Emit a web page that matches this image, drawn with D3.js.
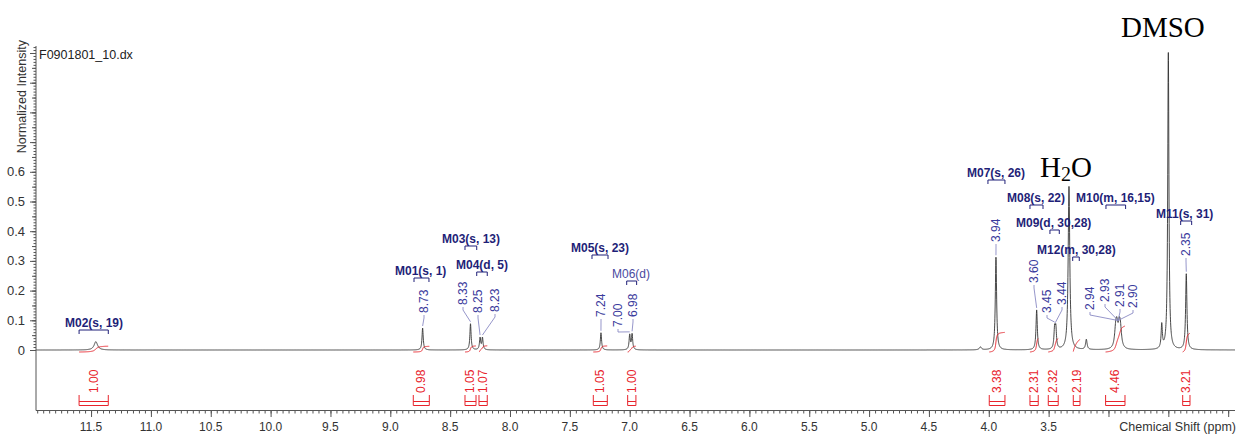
<!DOCTYPE html>
<meta charset="utf-8">
<style>
body { margin: 0; background: #fff; }
svg text { font-family: "Liberation Sans", Arial, Helvetica, sans-serif; }
.serif { font-family: "Liberation Serif", "Times New Roman", serif !important; }
</style>
<script src="https://d3js.org/d3.v7.min.js"></script>
<div id="chart"></div>
<script>
// peaks: position (ppm), normalized height, line width (ppm)
var peakPpm    = [11.46, 8.73, 8.33, 8.25, 8.23, 7.24, 7.00, 6.98, 4.07, 3.94, 3.60, 3.45, 3.44, 3.33, 3.185, 2.94, 2.93, 2.91, 2.90, 2.555, 2.50, 2.35];
var peakHeight = [0.028, 0.074, 0.088, 0.040, 0.040, 0.058, 0.050, 0.052, 0.010, 0.312, 0.134, 0.065, 0.065, 0.550, 0.034, 0.052, 0.062, 0.062, 0.052, 0.080, 1.0, 0.255];
var peakWidth  = [0.035, 0.012, 0.012, 0.012, 0.012, 0.012, 0.012, 0.012, 0.020, 0.013, 0.013, 0.013, 0.013, 0.016, 0.015, 0.022, 0.022, 0.022, 0.022, 0.012, 0.012, 0.013];

// integration regions (ppm from, to) and values
var integFrom  = [11.60, 8.808, 8.376, 8.259, 7.304, 7.017, 3.996, 3.656, 3.503, 3.294, 3.024, 2.380];
var integTo    = [11.356, 8.674, 8.284, 8.190, 7.187, 6.948, 3.865, 3.587, 3.420, 3.238, 2.862, 2.319];
var integValue = ["1.00", "0.98", "1.05", "1.07", "1.05", "1.00", "3.38", "2.31", "2.32", "2.19", "4.46", "3.21"];

// multiplet annotations
var multName = ["M02(s, 19)", "M01(s, 1)", "M03(s, 13)", "M04(d, 5)", "M05(s, 23)", "M06(d)", "M07(s, 26)", "M08(s, 22)", "M09(d, 30,28)", "M10(m, 16,15)", "M11(s, 31)", "M12(m, 30,28)"];
var multFrom   = [11.60, 8.802, 8.376, 8.278, 7.315, 7.025, 4.007, 3.656, 3.489, 3.021, 2.397, 3.299];
var multTo     = [11.356, 8.677, 8.278, 8.190, 7.181, 6.942, 3.865, 3.547, 3.411, 2.857, 2.305, 3.244];

// labelled peak shifts
var shiftLabel = ["8.73", "8.33", "8.25", "8.23", "7.24", "7.00", "6.98", "3.94", "3.60", "3.45", "3.44", "2.94", "2.93", "2.91", "2.90", "2.35"];

var xTickMajor = d3.range(2.0, 11.51, 0.5);
var xTickLabels = ["3.5", "4.0", "4.5", "5.0", "5.5", "6.0", "6.5", "7.0", "7.5", "8.0", "8.5", "9.0", "9.5", "10.0", "10.5", "11.0", "11.5"];
var yTickLabels = ["0", "0.1", "0.2", "0.3", "0.4", "0.5", "0.6"];

// ---- layout (pixel positions of annotation text) ----
var multTextPos = [[65, 327], [395, 275], [442, 243], [456, 269], [571, 252], [612, 278],
                   [967, 177], [1007, 202], [1016, 227], [1076, 202], [1156, 218], [1037, 254]];
var shiftTextPos = [[424, 313], [463, 305], [478, 313], [495, 312], [601, 317], [618, 327], [633, 317],
                    [996, 242], [1034, 283], [1047, 313], [1062, 305], [1090, 310], [1105, 302], [1120, 307], [1133, 308], [1186, 256]];
var shiftPeakTarget = [8.73, 8.33, 8.25, 8.23, 7.24, 7.00, 6.98, 3.94, 3.60, 3.45, 3.445, 2.92, 2.92, 2.92, 2.92, 2.35];

var W = 1239, H = 436;
var svg = d3.select("#chart").append("svg").attr("width", W).attr("height", H);

var x = d3.scaleLinear().domain([11.96, 1.943]).range([36, 1235]);
var y = d3.scaleLinear().domain([0, 1]).range([350, 53]);
var axisY = 410.5, axisTop = 46;

function intensity(p) {
  var s = 0;
  for (var i = 0; i < peakPpm.length; i++) {
    var d = (p - peakPpm[i]) / (peakWidth[i] / 2);
    s += peakHeight[i] / (1 + d * d);
  }
  return s;
}

// spectrum samples
var pts = d3.range(1.943, 11.96, 0.001).concat(peakPpm).sort(d3.ascending);
var spec = pts.map(function(p) { return [p, intensity(p)]; });

svg.append("defs").append("clipPath").attr("id", "clip")
  .append("rect").attr("x", 36).attr("y", 0).attr("width", 1199).attr("height", axisY);

svg.append("path")
  .datum(spec)
  .attr("clip-path", "url(#clip)")
  .attr("fill", "none")
  .attr("stroke", "#333")
  .attr("stroke-width", 0.9)
  .attr("d", d3.line().x(function(d) { return x(d[0]); }).y(function(d) { return y(d[1]); }));

// integral curves
var red = "#e8242c";
integFrom.forEach(function(a, i) {
  var b = integTo[i];
  var ps = d3.range(a, b, -0.001);
  var cum = 0, arr = [];
  ps.forEach(function(p) { cum += intensity(p); arr.push([p, cum]); });
  var tot = cum;
  var hgt = +integValue[i] * 5.8;
  svg.append("path")
    .datum(arr)
    .attr("fill", "none").attr("stroke", red).attr("stroke-width", 1)
    .attr("d", d3.line().x(function(d) { return x(d[0]); })
      .y(function(d) { return y(0) + 2 - d[1] / tot * hgt; }));

  // bracket under the spectrum
  var x0 = x(a), x1 = x(b);
  svg.append("path")
    .attr("fill", "none").attr("stroke", red).attr("stroke-width", 1)
    .attr("d", "M" + x0 + ",395V405.5H" + x1 + "V395M" + x0 + ",401.5H" + x1);
  var cx = (x0 + x1) / 2;
  svg.append("text")
    .attr("transform", "translate(" + (cx + 4) + ",393) rotate(-90)")
    .attr("fill", red).attr("font-size", "12px")
    .text(integValue[i]);
});

// multiplet labels
var navy = "#1f1f78";
multName.forEach(function(m, i) {
  var pos = multTextPos[i];
  svg.append("text")
    .attr("x", pos[0]).attr("y", pos[1])
    .attr("fill", m === "M06(d)" ? "#4a4aa0" : navy)
    .attr("font-size", "12px")
    .attr("font-weight", m === "M06(d)" ? "normal" : "bold")
    .text(m);
  var x0 = x(multFrom[i]), x1 = x(multTo[i]), by = pos[1] + 3;
  svg.append("path")
    .attr("fill", "none").attr("stroke", navy).attr("stroke-width", 1)
    .attr("d", "M" + x0 + "," + (by + 4) + "V" + by + "H" + x1 + "V" + (by + 4));
});

// shift labels with leader lines
var blue = "#3a3a9c";
shiftLabel.forEach(function(s, i) {
  var pos = shiftTextPos[i];
  svg.append("text")
    .attr("transform", "translate(" + (pos[0] + 4) + "," + pos[1] + ") rotate(-90)")
    .attr("fill", blue).attr("font-size", "12px")
    .text(s);
  var tp = shiftPeakTarget[i];
  var px = x(tp), py = y(intensity(tp)) - 2;
  svg.append("path")
    .attr("fill", "none").attr("stroke", "#8a8ac4").attr("stroke-width", 0.9)
    .attr("d", "M" + pos[0] + "," + (pos[1] + 2) + "L" + pos[0] + "," + (pos[1] + 5) + "L" + px + "," + py);
});

// x axis: each tick level in its own group
function xTicks(vals, size) {
  var g = svg.append("g").attr("transform", "translate(0," + axisY + ")");
  g.call(d3.axisBottom(x).tickValues(vals).tickSize(size).tickFormat(""));
  g.select(".domain").remove();
  g.selectAll("line").attr("stroke", "#555");
  return g;
}
xTicks(d3.range(2.0, 11.96, 0.05), 3);
var gx = xTicks(xTickMajor, 6.5);
gx.append("line").attr("x1", 36).attr("x2", 1235).attr("stroke", "#555");
gx.selectAll(".lbl").data(xTickLabels).enter().append("text")
  .attr("class", "lbl")
  .attr("x", function(d) { return x(+d); }).attr("y", 20)
  .attr("text-anchor", "middle").attr("fill", "#333").attr("font-size", "12px")
  .text(function(d) { return d; });
gx.append("text").attr("x", 1236).attr("y", 20)
  .attr("text-anchor", "end").attr("fill", "#333").attr("font-size", "12.5px")
  .text("Chemical Shift (ppm)");

// y axis
var yTop = y.invert(axisTop);
function yTicks(step, size) {
  var g = svg.append("g").attr("transform", "translate(36,0)");
  g.call(d3.axisLeft(y).tickValues(d3.range(0, yTop, step)).tickSize(size).tickFormat(""));
  g.select(".domain").remove();
  g.selectAll("line").attr("stroke", "#555");
  return g;
}
yTicks(0.01, 2.5);
yTicks(0.05, 4);
var gy = yTicks(0.1, 6);
gy.append("line").attr("y1", axisTop).attr("y2", axisY).attr("stroke", "#555");
gy.selectAll(".lbl").data(yTickLabels).enter().append("text")
  .attr("class", "lbl")
  .attr("x", -11).attr("y", function(d) { return y(+d) + 4.5; })
  .attr("text-anchor", "end").attr("fill", "#333").attr("font-size", "13px")
  .text(function(d) { return d; });
svg.append("text")
  .attr("transform", "translate(26,40) rotate(-90)")
  .attr("text-anchor", "end").attr("fill", "#333").attr("font-size", "12.5px")
  .text("Normalized Intensity");
svg.append("text").attr("x", 39).attr("y", 59)
  .attr("fill", "#222").attr("font-size", "12.5px").text("F0901801_10.dx");

// solvent annotations
svg.append("text").attr("class", "serif").attr("x", 1040).attr("y", 177)
  .attr("font-size", "29px").attr("fill", "#000")
  .html('H<tspan font-size="20px" dy="4">2</tspan><tspan dy="-4">O</tspan>');
svg.append("text").attr("class", "serif").attr("x", 1121).attr("y", 37)
  .attr("font-size", "29px").attr("fill", "#000").text("DMSO");
</script>
